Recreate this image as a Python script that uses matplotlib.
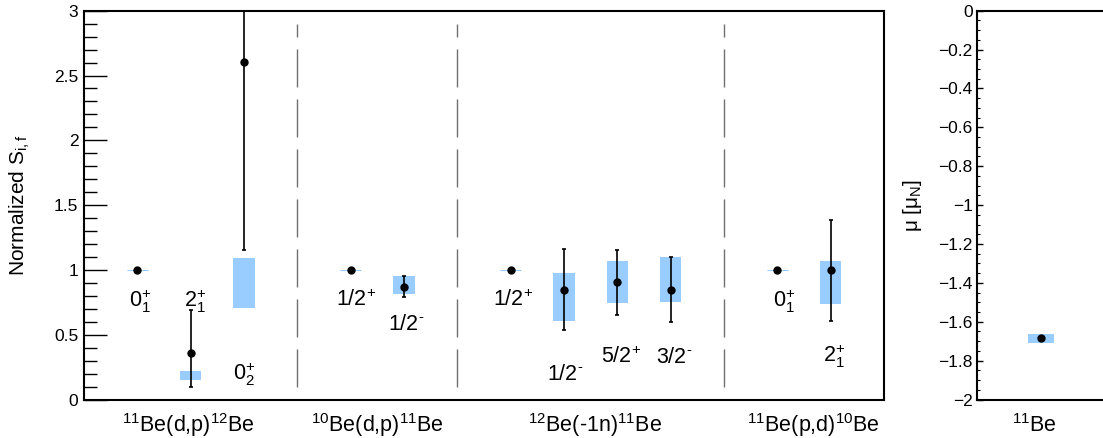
import matplotlib
matplotlib.use('Agg')
import matplotlib.pyplot as plt
import numpy as np
from matplotlib.ticker import MultipleLocator, FuncFormatter
import matplotlib.transforms as mtransforms

plt.rcParams['font.family'] = ['Liberation Sans', 'DejaVu Sans']
plt.rcParams['mathtext.fontset'] = 'custom'
plt.rcParams['mathtext.rm'] = 'Liberation Sans'
plt.rcParams['mathtext.it'] = 'Liberation Sans:italic'
plt.rcParams['mathtext.bf'] = 'Liberation Sans:bold'
plt.rcParams['mathtext.default'] = 'regular'

# ---------------- data ----------------
reactions = [r'$^{11}$Be(d,p)$^{12}$Be', r'$^{10}$Be(d,p)$^{11}$Be',
             r'$^{12}$Be(-1n)$^{11}$Be', r'$^{11}$Be(p,d)$^{10}$Be']
reaction_x = [1.95, 5.5, 9.58, 13.67]
divider_x = [4, 7, 12]

state_x = [1, 2, 3, 5, 6, 8, 9, 10, 11, 13, 14]
state_labels = [r'$0^{\text{+}}_1$', r'$2^{\text{+}}_1$', r'$0^{\text{+}}_2$',
                r'$1/2^{\text{+}}$', r'$1/2^{\text{-}}$',
                r'$1/2^{\text{+}}$', r'$1/2^{\text{-}}$', r'$5/2^{\text{+}}$',
                r'$3/2^{\text{-}}$', r'$0^{\text{+}}_1$', r'$2^{\text{+}}_1$']
values = [1.0, 0.356, 2.607, 1.0, 0.870, 1.0, 0.845, 0.904, 0.847, 1.0, 1.0]
err_low = [1.0, 0.099, 1.153, 1.0, 0.788, 1.0, 0.536, 0.654, 0.600, 1.0, 0.608]
err_high = [1.0, 0.690, 3.40, 1.0, 0.955, 1.0, 1.159, 1.153, 1.097, 1.0, 1.385]
band_low = [1.0, 0.148, 0.704, 1.0, 0.816, 1.0, 0.608, 0.742, 0.750, 1.0, 0.739]
band_high = [1.0, 0.220, 1.089, 1.0, 0.950, 1.0, 0.974, 1.069, 1.102, 1.0, 1.069]

# label placement (layout only)
label_x = [1.05, 2.09, 3.01, 5.1, 6.05, 8.04, 9.02, 10.07, 11.06, 13.13, 14.06]
label_y = [0.716, 0.716, 0.150, 0.72, 0.54, 0.72, 0.150, 0.284, 0.284, 0.716, 0.292]

nuclei = [r'$^{11}$Be']
mu_value = [-1.684]
mu_band_low = [-1.708]
mu_band_high = [-1.661]

BLUE = '#99ccff'
W, H = 1103, 438
fig = plt.figure(figsize=(W / 100, H / 100), dpi=100)

ax_bottom = 1 - 399.5 / H
ax_height = (399.5 - 10.7) / H
ax = fig.add_axes([84 / W, ax_bottom, 800 / W, ax_height])
ax2 = fig.add_axes([977 / W, ax_bottom, 128 / W, ax_height])

# ---------------- left panel ----------------
ax.set_xlim(0, 15)
ax.set_ylim(0, 3)
for xd in divider_x:
    ax.plot([xd, xd], [0.1, 2.9], color='#707070', lw=1.0, dashes=(27.4, 8.6))

sx = np.array(state_x, float)
v = np.array(values)
blo = np.array(band_low)
bhi = np.array(band_high)
thin = (bhi - blo) < 1e-6
ax.bar(sx[~thin], (bhi - blo)[~thin], bottom=blo[~thin], width=0.4,
       color=BLUE, linewidth=0, zorder=2)
ax.bar(sx[thin], np.full(thin.sum(), 0.004), bottom=blo[thin] - 0.002, width=0.4,
       color=BLUE, edgecolor=BLUE, linewidth=0.8, zorder=2)

elo = np.array(err_low)
ehi = np.array(err_high)
has_err = (ehi - elo) > 1e-6
ax.errorbar(sx[has_err], v[has_err], yerr=[v[has_err] - elo[has_err], ehi[has_err] - v[has_err]],
            fmt='none', ecolor='black', elinewidth=1.2, capsize=1.6, capthick=1.2, zorder=3)
ax.plot(sx, v, 'o', color='black', markersize=5, zorder=4)

for lx, ly, lab in zip(label_x, label_y, state_labels):
    ax.text(lx, ly, lab, ha='center', va='baseline', fontsize=15.5)

trans = mtransforms.blended_transform_factory(ax.transData, ax.transAxes)
for rx, rl in zip(reaction_x, reactions):
    ax.text(rx, -0.083, rl, ha='center', va='baseline', fontsize=15.5, transform=trans)

ax.set_xticks([])
ax.yaxis.set_major_locator(MultipleLocator(0.5))
ax.yaxis.set_minor_locator(MultipleLocator(0.1))
ax.yaxis.set_major_formatter(FuncFormatter(lambda y, p: '%g' % y))
ax.tick_params(axis='y', which='major', direction='in', length=16.5, width=1.0,
               labelsize=12.5, pad=4)
ax.tick_params(axis='y', which='minor', direction='in', length=9, width=1.0)
for s in ax.spines.values():
    s.set_linewidth(1.5)

fig.text(19.5 / W, 1 - 205 / H, r'Normalized S$_{\rm i,f}$', rotation=90,
         ha='center', va='center', fontsize=15)

# ---------------- right panel ----------------
ax2.set_xlim(0, 2)
ax2.set_ylim(-2, 0)
mx = np.arange(1, len(nuclei) + 1)
mlo = np.array(mu_band_low)
mhi = np.array(mu_band_high)
ax2.bar(mx, mhi - mlo, bottom=mlo, width=0.4, color=BLUE, linewidth=0, zorder=2)
ax2.plot(mx, mu_value, 'o', color='black', markersize=5, zorder=4)
trans2 = mtransforms.blended_transform_factory(ax2.transData, ax2.transAxes)
for x_, nl in zip(mx, nuclei):
    ax2.text(x_ - 0.11, -0.083, nl, ha='center', va='baseline', fontsize=15.5, transform=trans2)

ax2.set_xticks([])
ax2.yaxis.set_major_locator(MultipleLocator(0.2))
ax2.yaxis.set_minor_locator(MultipleLocator(0.05))
ax2.yaxis.set_major_formatter(FuncFormatter(lambda y, p: ('%g' % round(y, 3)).replace('-', '\u2212')))
ax2.tick_params(axis='y', which='major', direction='in', length=4, width=1.0,
                labelsize=12.5, pad=3)
ax2.tick_params(axis='y', which='minor', direction='in', length=2, width=0.8)
for s in ax2.spines.values():
    s.set_linewidth(1.5)

fig.text(913 / W, 1 - 205 / H, r'μ [μ$_{\rm N}$]', rotation=90,
         ha='center', va='center', fontsize=15)

fig.savefig('out.png', dpi=100)
